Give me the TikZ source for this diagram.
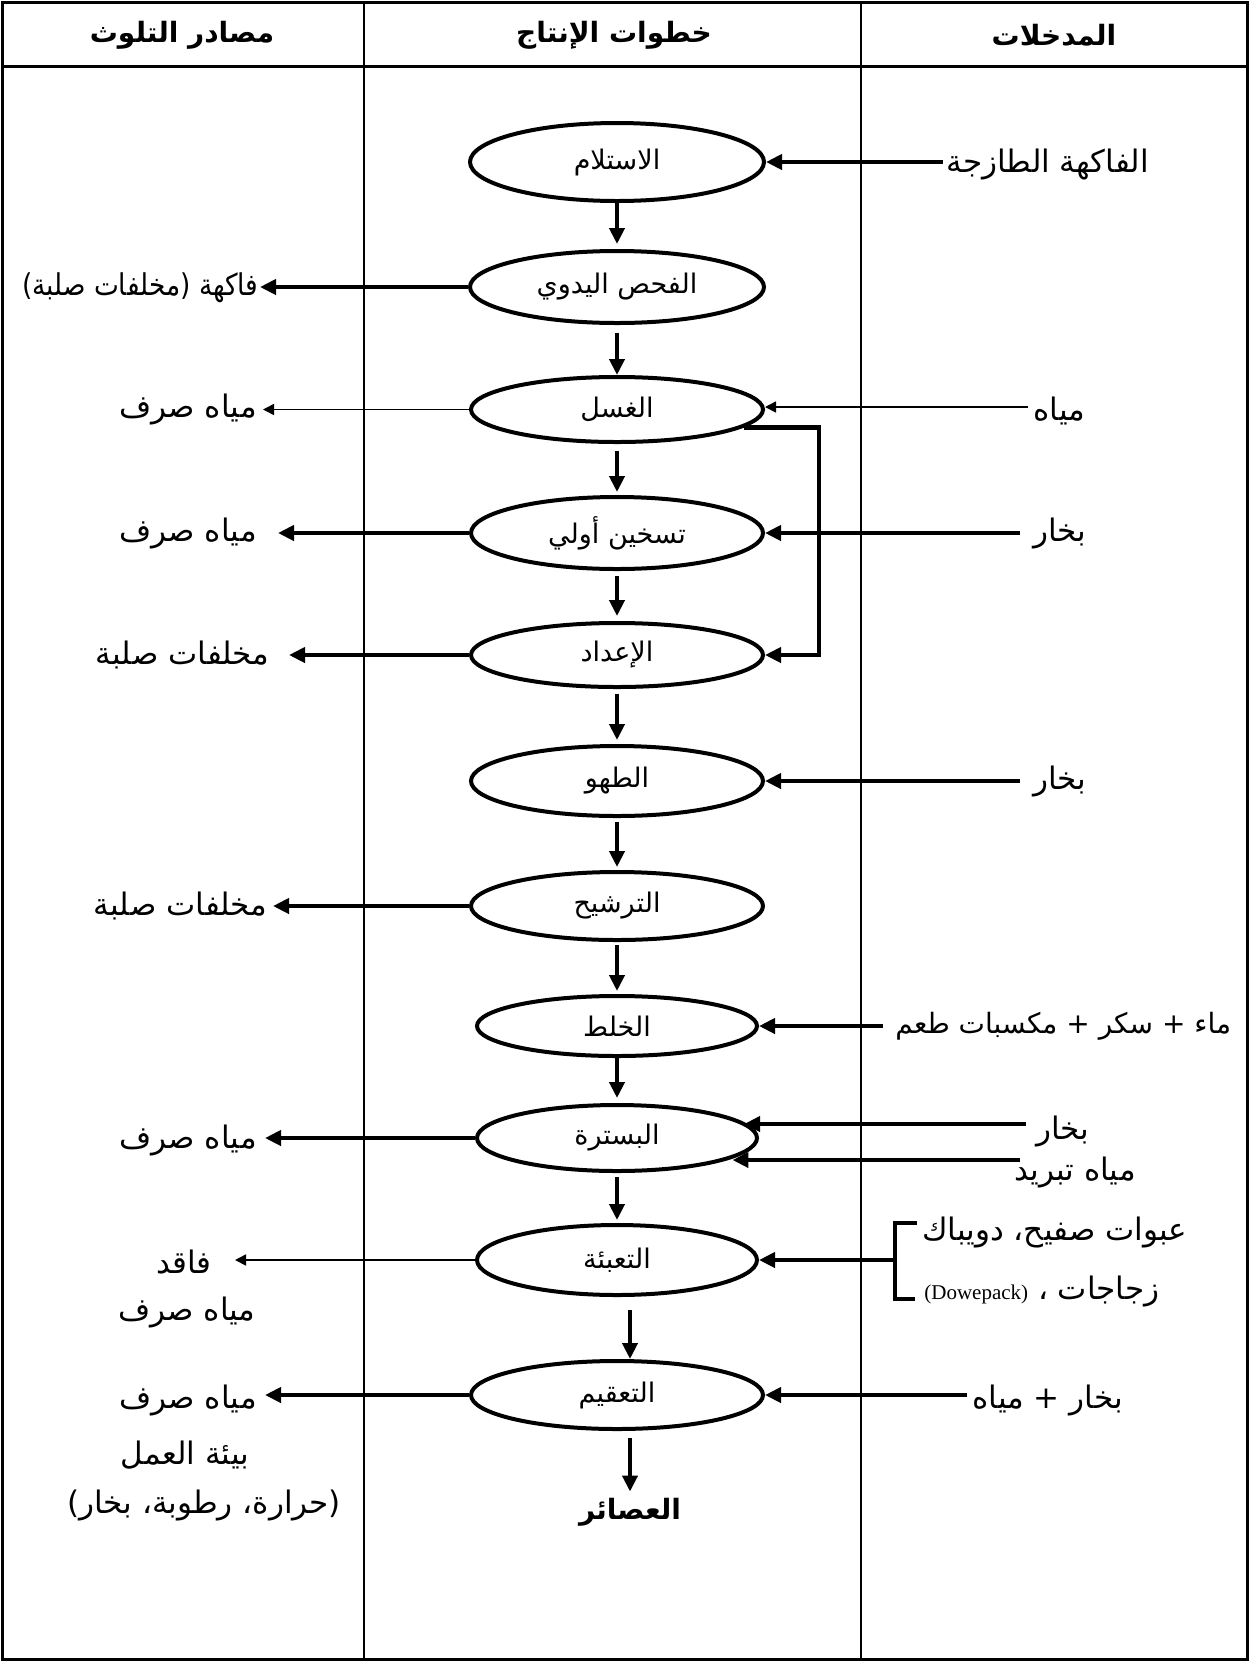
\documentclass[tikz,border=0pt]{standalone}
\usepackage{fontspec}
\usepackage{graphicx}
\usetikzlibrary{shapes.geometric,arrows.meta}
\TeXXeTstate=1
\newfontfamily\arabicfont[Script=Arabic]{DejaVu Sans}
\newfontfamily\latinserif{Liberation Serif}
\newcommand{\rtltext}[1]{\beginR #1\endR}
\begin{document}
\begin{tikzpicture}[x=0.5pt,y=-0.5pt,
  proc/.style={ellipse, draw, line width=2pt, inner sep=0pt, font=\arabicfont\fontsize{13.5}{15}\selectfont},
  lbl/.style={inner sep=0pt, font=\arabicfont\fontsize{15.5}{18}\selectfont},
  hdr/.style={inner sep=0pt, font=\arabicfont\bfseries\fontsize{14}{16}\selectfont},
  flow/.style={line width=2.2pt, -{Triangle[length=8pt,width=7.5pt]}},
  thinflow/.style={line width=0.8pt, -{Triangle[length=5.5pt,width=5.5pt]}},
  framel/.style={line width=1.5pt},
  coll/.style={line width=0.8pt},
  brk/.style={line width=2.2pt}
]
\useasboundingbox (0,0) rectangle (1249,1661);
% table
\draw[coll] (364,2) -- (364,1659);
\draw[coll] (861,2) -- (861,1659);
\draw[framel] (2,66) -- (1247,66);
\draw[framel] (2,2) rectangle (1247,1659);
% headers
\node[hdr] (h1) at (182,35) {\rtltext{مصادر التلوث}};
\node[hdr] (h2) at (614,35) {\rtltext{خطوات الإنتاج}};
\node[hdr] (h3) at (1054,35) {\rtltext{المدخلات}};
% process steps
\node[proc, minimum width=147pt, minimum height=39pt] (e1) at (617,162) {\rtltext{الاستلام}};
\node[proc, minimum width=147pt, minimum height=36pt] (e2) at (617,287) {\rtltext{الفحص اليدوي}};
\node[proc, minimum width=146pt, minimum height=32.5pt] (e3) at (617,409.5) {\rtltext{الغسل}};
\node[proc, minimum width=146pt, minimum height=36pt] (e4) at (617,533) {\rtltext{تسخين أولي}};
\node[proc, minimum width=146pt, minimum height=32pt] (e5) at (617,655) {\rtltext{الإعداد}};
\node[proc, minimum width=146pt, minimum height=35pt] (e6) at (617,781) {\rtltext{الطهو}};
\node[proc, minimum width=146pt, minimum height=34pt] (e7) at (617,906) {\rtltext{الترشيح}};
\node[proc, minimum width=140pt, minimum height=30pt] (e8) at (617,1026) {\rtltext{الخلط}};
\node[proc, minimum width=140pt, minimum height=33pt] (e9) at (617,1138) {\rtltext{البسترة}};
\node[proc, minimum width=140pt, minimum height=35pt] (e10) at (617,1260) {\rtltext{التعبئة}};
\node[proc, minimum width=146pt, minimum height=34pt] (e11) at (617,1395) {\rtltext{التعقيم}};
\node[hdr] (prod) at (630,1512) {\rtltext{العصائر}};
% vertical flow
\draw[flow, shorten >=2.5pt] (e1.south) -- (e2.north);
\draw[flow, shorten <=4pt] (e2.south) -- (e3.north);
\draw[flow, shorten <=3.5pt, shorten >=1.5pt] (e3.south) -- (e4.north);
\draw[flow, shorten <=2.5pt, shorten >=2.5pt] (e4.south) -- (e5.north);
\draw[flow, shorten <=2.5pt, shorten >=2pt] (e5.south) -- (e6.north);
\draw[flow, shorten <=2pt, shorten >=1.5pt] (e6.south) -- (e7.north);
\draw[flow, shorten <=1.5pt, shorten >=1.5pt] (e7.south) -- (e8.north);
\draw[flow, shorten >=2.5pt] (e8.south) -- (e9.north);
\draw[flow, shorten <=2pt, shorten >=1.5pt] (e9.south) -- (e10.north);
\draw[flow] ([xshift=6.5pt,yshift=-6.5pt]e10.south) -- ([xshift=6.5pt]e11.north);
\draw[flow, shorten >=3pt] ([xshift=6.5pt,yshift=-3.5pt]e11.south) -- (prod.north);
% feedback loop
\draw[flow] (e3.-8) -- ++(75,0) |- (e5.east);
% outputs (left)
\node[lbl, anchor=east] (o2) at (259,288) {\scalebox{0.88}[1]{\fontsize{15}{17}\selectfont\rtltext{فاكهة (مخلفات صلبة)}}};
\node[lbl, anchor=east] (o3) at (257,409) {\rtltext{مياه صرف}};
\node[lbl, anchor=east] (o4) at (257,533) {\rtltext{مياه صرف}};
\node[lbl, anchor=east] (o5) at (270,655) {\rtltext{مخلفات صلبة}};
\node[lbl, anchor=east] (o7) at (268,906) {\rtltext{مخلفات صلبة}};
\node[lbl, anchor=east] (o9) at (257,1140) {\rtltext{مياه صرف}};
\node[lbl, anchor=east] (o10a) at (212,1262) {\rtltext{فاقد}};
\node[lbl] (o10b) at (187,1312) {\rtltext{مياه صرف}};
\node[lbl, anchor=east] (o11a) at (257,1400) {\rtltext{مياه صرف}};
\node[lbl] (o11b) at (185,1455) {\rtltext{بيئة العمل}};
\node[lbl] (o11c) at (204,1505) {\rtltext{(حرارة، رطوبة، بخار)}};
\coordinate (t2) at (260,287);
\coordinate (t3) at (263,409.5);
\coordinate (t4) at (278,533);
\coordinate (t5) at (289,655);
\coordinate (t7) at (273,906);
\coordinate (t9) at (265,1138);
\coordinate (t10) at (235,1260);
\coordinate (t11) at (265,1395);
\draw[flow] (e2.west) -- (t2);
\draw[thinflow] (e3.west) -- (t3);
\draw[flow] (e4.west) -- (t4);
\draw[flow] (e5.west) -- (t5);
\draw[flow] (e7.west) -- (t7);
\draw[flow] (e9.west) -- (t9);
\draw[thinflow] (e10.west) -- (t10);
\draw[flow] (e11.west) -- (t11);
% inputs (right)
\node[lbl, anchor=west] (i1) at (946,164) {\rtltext{الفاكهة الطازجة}};
\node[lbl, anchor=west] (i3) at (1033,411) {\rtltext{مياه}};
\node[lbl, anchor=west] (i4) at (1033,533) {\rtltext{بخار}};
\node[lbl, anchor=west] (i6) at (1033,781) {\rtltext{بخار}};
\node[lbl, anchor=west, font=\arabicfont\fontsize{14}{16}\selectfont] (i8) at (895,1026) {\rtltext{ماء + سكر + مكسبات طعم}};
\node[lbl] (i9a) at (1063,1131) {\rtltext{بخار}};
\node[lbl] (i9b) at (1075,1172) {\rtltext{مياه تبريد}};
\node[lbl, anchor=west] (i10a) at (922,1232) {\rtltext{عبوات صفيح، دويباك}};
\node[lbl, anchor=west] (i10b) at (924,1291) {\rtltext{زجاجات ، \beginL{\latinserif\fontsize{10.5}{12}\selectfont (Dowepack)}\endL}};
\node[lbl, anchor=west] (i11) at (972,1400) {\rtltext{بخار + مياه}};
\coordinate (s1) at (943,162);
\coordinate (s3) at (1028,407);
\coordinate (s4) at (1020,533);
\coordinate (s6) at (1020,781);
\coordinate (s8) at (883,1026);
\coordinate (s9a) at (1026,1124);
\coordinate (s9b) at (1020,1160);
\coordinate (s10) at (895,1260);
\coordinate (s11) at (967,1395);
\draw[flow] (s1) -- (e1.east);
\draw[thinflow] (s3) -- (s3 -| e3.east);
\draw[flow] (s4) -- (e4.east);
\draw[flow] (s6) -- (e6.east);
\draw[flow] (s8) -- (e8.east);
\draw[flow] (s9a) -- (s9a -| e9.7);
\draw[flow] (s9b) -- (s9b -| e9.-10);
\draw[brk] (917,1223) -- (895,1223) -- (895,1299) -- (915,1299);
\draw[flow] (s10) -- (e10.east);
\draw[flow] (s11) -- (e11.east);
\end{tikzpicture}
\end{document}
